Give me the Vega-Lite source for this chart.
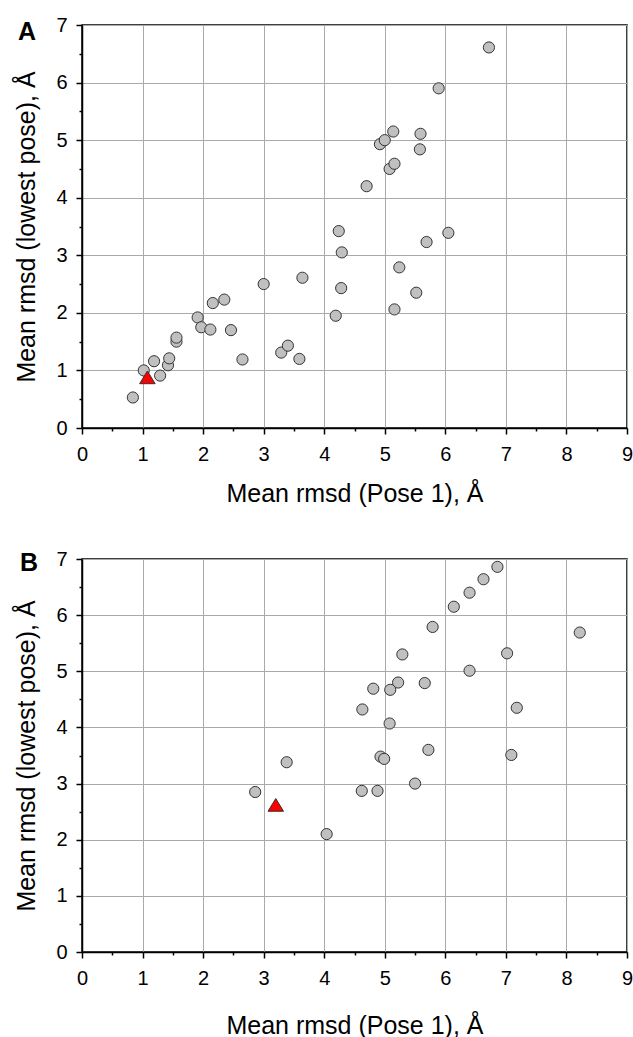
{
  "$schema": "https://vega.github.io/schema/vega-lite/v6.json",
  "padding": {"left": 14, "top": 14, "right": 4, "bottom": 4},
  "spacing": 41,
  "config": {
    "font": "Liberation Sans",
    "view": {"stroke": "black", "strokeWidth": 1.5},
    "axis": {
      "domainColor": "black", "domainWidth": 1.5,
      "tickColor": "black", "tickWidth": 1.5,
      "gridColor": "#aaaaaa", "gridWidth": 1,
      "labelFontSize": 20, "labelColor": "black", "labelFont": "Liberation Sans",
      "labelFlush": false, "labelOverlap": false, "labelBound": false,
      "titleFontSize": 25, "titleFontWeight": "normal", "titleColor": "black", "titleFont": "Liberation Sans"
    }
  },
  "datasets": {
    "a": [
      {"pose1": 0.84, "lowest": 0.53, "kind": "ligand"},
      {"pose1": 1.02, "lowest": 1.00, "kind": "ligand"},
      {"pose1": 1.19, "lowest": 1.16, "kind": "ligand"},
      {"pose1": 1.29, "lowest": 0.91, "kind": "ligand"},
      {"pose1": 1.42, "lowest": 1.09, "kind": "ligand"},
      {"pose1": 1.44, "lowest": 1.21, "kind": "ligand"},
      {"pose1": 1.56, "lowest": 1.50, "kind": "ligand"},
      {"pose1": 1.56, "lowest": 1.57, "kind": "ligand"},
      {"pose1": 1.91, "lowest": 1.92, "kind": "ligand"},
      {"pose1": 1.97, "lowest": 1.75, "kind": "ligand"},
      {"pose1": 2.12, "lowest": 1.71, "kind": "ligand"},
      {"pose1": 2.16, "lowest": 2.17, "kind": "ligand"},
      {"pose1": 2.35, "lowest": 2.23, "kind": "ligand"},
      {"pose1": 2.46, "lowest": 1.70, "kind": "ligand"},
      {"pose1": 2.65, "lowest": 1.19, "kind": "ligand"},
      {"pose1": 3.00, "lowest": 2.50, "kind": "ligand"},
      {"pose1": 3.29, "lowest": 1.31, "kind": "ligand"},
      {"pose1": 3.40, "lowest": 1.43, "kind": "ligand"},
      {"pose1": 3.59, "lowest": 1.20, "kind": "ligand"},
      {"pose1": 3.64, "lowest": 2.61, "kind": "ligand"},
      {"pose1": 6.72, "lowest": 6.61, "kind": "ligand"},
      {"pose1": 5.89, "lowest": 5.90, "kind": "ligand"},
      {"pose1": 5.14, "lowest": 5.15, "kind": "ligand"},
      {"pose1": 5.59, "lowest": 5.11, "kind": "ligand"},
      {"pose1": 4.92, "lowest": 4.93, "kind": "ligand"},
      {"pose1": 5.00, "lowest": 5.00, "kind": "ligand"},
      {"pose1": 5.58, "lowest": 4.84, "kind": "ligand"},
      {"pose1": 5.08, "lowest": 4.50, "kind": "ligand"},
      {"pose1": 5.16, "lowest": 4.59, "kind": "ligand"},
      {"pose1": 4.70, "lowest": 4.20, "kind": "ligand"},
      {"pose1": 4.24, "lowest": 3.42, "kind": "ligand"},
      {"pose1": 6.05, "lowest": 3.39, "kind": "ligand"},
      {"pose1": 5.69, "lowest": 3.23, "kind": "ligand"},
      {"pose1": 4.29, "lowest": 3.05, "kind": "ligand"},
      {"pose1": 5.24, "lowest": 2.79, "kind": "ligand"},
      {"pose1": 4.28, "lowest": 2.43, "kind": "ligand"},
      {"pose1": 5.52, "lowest": 2.35, "kind": "ligand"},
      {"pose1": 5.16, "lowest": 2.06, "kind": "ligand"},
      {"pose1": 4.19, "lowest": 1.95, "kind": "ligand"},
      {"pose1": 1.08, "lowest": 0.88, "kind": "reference"}
    ],
    "b": [
      {"pose1": 2.86, "lowest": 2.85, "kind": "ligand"},
      {"pose1": 3.38, "lowest": 3.38, "kind": "ligand"},
      {"pose1": 6.86, "lowest": 6.86, "kind": "ligand"},
      {"pose1": 6.63, "lowest": 6.64, "kind": "ligand"},
      {"pose1": 6.40, "lowest": 6.40, "kind": "ligand"},
      {"pose1": 6.14, "lowest": 6.15, "kind": "ligand"},
      {"pose1": 5.79, "lowest": 5.79, "kind": "ligand"},
      {"pose1": 8.22, "lowest": 5.69, "kind": "ligand"},
      {"pose1": 5.29, "lowest": 5.30, "kind": "ligand"},
      {"pose1": 7.02, "lowest": 5.32, "kind": "ligand"},
      {"pose1": 6.40, "lowest": 5.01, "kind": "ligand"},
      {"pose1": 5.22, "lowest": 4.80, "kind": "ligand"},
      {"pose1": 5.66, "lowest": 4.79, "kind": "ligand"},
      {"pose1": 4.81, "lowest": 4.69, "kind": "ligand"},
      {"pose1": 5.09, "lowest": 4.67, "kind": "ligand"},
      {"pose1": 4.63, "lowest": 4.32, "kind": "ligand"},
      {"pose1": 7.18, "lowest": 4.35, "kind": "ligand"},
      {"pose1": 5.08, "lowest": 4.07, "kind": "ligand"},
      {"pose1": 5.72, "lowest": 3.60, "kind": "ligand"},
      {"pose1": 4.93, "lowest": 3.48, "kind": "ligand"},
      {"pose1": 4.99, "lowest": 3.44, "kind": "ligand"},
      {"pose1": 7.09, "lowest": 3.51, "kind": "ligand"},
      {"pose1": 5.50, "lowest": 3.00, "kind": "ligand"},
      {"pose1": 4.62, "lowest": 2.87, "kind": "ligand"},
      {"pose1": 4.88, "lowest": 2.87, "kind": "ligand"},
      {"pose1": 4.04, "lowest": 2.10, "kind": "ligand"},
      {"pose1": 3.20, "lowest": 2.62, "kind": "reference"}
    ]
  },
  "vconcat": [
    {
      "width": 545, "height": 403,
      "data": {"name": "a"},
      "title": {"text": "A", "anchor": "start", "frame": "group", "orient": "top", "fontSize": 25, "fontWeight": "bold", "font": "Liberation Sans", "color": "black", "baseline": "alphabetic", "offset": 0, "dx": -64, "dy": 50},
      "mark": {"type": "point", "filled": true, "opacity": 1, "stroke": "#333333", "strokeWidth": 1},
      "encoding": {
        "x": {"field": "pose1", "type": "quantitative", "scale": {"domain": [0, 9], "nice": false},
          "axis": {"title": "Mean rmsd (Pose 1), Å", "values": [0,0.5,1,1.5,2,2.5,3,3.5,4,4.5,5,5.5,6,6.5,7,7.5,8,8.5,9],
            "labelExpr": "datum.value % 1 === 0 ? '' + datum.value : ''", "labelPadding": 10, "titlePadding": 17,
            "tickSize": {"condition": {"test": "datum.value % 1 === 0", "value": 6}, "value": 3},
            "gridOpacity": {"condition": {"test": "datum.value % 1 === 0", "value": 1}, "value": 0}}},
        "y": {"field": "lowest", "type": "quantitative", "scale": {"domain": [0, 7], "nice": false},
          "axis": {"title": "Mean rmsd (lowest pose), Å", "values": [0,0.5,1,1.5,2,2.5,3,3.5,4,4.5,5,5.5,6,6.5,7],
            "labelExpr": "datum.value % 1 === 0 ? '' + datum.value : ''", "labelPadding": 9, "titlePadding": 16,
            "tickSize": {"condition": {"test": "datum.value % 1 === 0", "value": 6}, "value": 3},
            "gridOpacity": {"condition": {"test": "datum.value % 1 === 0", "value": 1}, "value": 0}}},
        "shape": {"field": "kind", "type": "nominal", "scale": {"domain": ["ligand", "reference"], "range": ["circle", "M-1,0.82L0,-0.82L1,0.82Z"]}, "legend": null},
        "fill": {"field": "kind", "type": "nominal", "scale": {"domain": ["ligand", "reference"], "range": ["#c0c0c0", "#ff0000"]}, "legend": null},
        "size": {"field": "kind", "type": "ordinal", "scale": {"domain": ["ligand", "reference"], "range": [125, 240]}, "legend": null}
      }
    },
    {
      "width": 545, "height": 393,
      "data": {"name": "b"},
      "title": {"text": "B", "anchor": "start", "frame": "group", "orient": "top", "fontSize": 25, "fontWeight": "bold", "font": "Liberation Sans", "color": "black", "baseline": "alphabetic", "offset": 0, "dx": -62, "dy": 47},
      "mark": {"type": "point", "filled": true, "opacity": 1, "stroke": "#333333", "strokeWidth": 1},
      "encoding": {
        "x": {"field": "pose1", "type": "quantitative", "scale": {"domain": [0, 9], "nice": false},
          "axis": {"title": "Mean rmsd (Pose 1), Å", "values": [0,0.5,1,1.5,2,2.5,3,3.5,4,4.5,5,5.5,6,6.5,7,7.5,8,8.5,9],
            "labelExpr": "datum.value % 1 === 0 ? '' + datum.value : ''", "labelPadding": 10, "titlePadding": 25,
            "tickSize": {"condition": {"test": "datum.value % 1 === 0", "value": 6}, "value": 3},
            "gridOpacity": {"condition": {"test": "datum.value % 1 === 0", "value": 1}, "value": 0}}},
        "y": {"field": "lowest", "type": "quantitative", "scale": {"domain": [0, 7], "nice": false},
          "axis": {"title": "Mean rmsd (lowest pose), Å", "values": [0,0.5,1,1.5,2,2.5,3,3.5,4,4.5,5,5.5,6,6.5,7],
            "labelExpr": "datum.value % 1 === 0 ? '' + datum.value : ''", "labelPadding": 9, "titlePadding": 16,
            "tickSize": {"condition": {"test": "datum.value % 1 === 0", "value": 6}, "value": 3},
            "gridOpacity": {"condition": {"test": "datum.value % 1 === 0", "value": 1}, "value": 0}}},
        "shape": {"field": "kind", "type": "nominal", "scale": {"domain": ["ligand", "reference"], "range": ["circle", "M-1,0.82L0,-0.82L1,0.82Z"]}, "legend": null},
        "fill": {"field": "kind", "type": "nominal", "scale": {"domain": ["ligand", "reference"], "range": ["#c0c0c0", "#ff0000"]}, "legend": null},
        "size": {"field": "kind", "type": "ordinal", "scale": {"domain": ["ligand", "reference"], "range": [125, 240]}, "legend": null}
      }
    }
  ]
}
